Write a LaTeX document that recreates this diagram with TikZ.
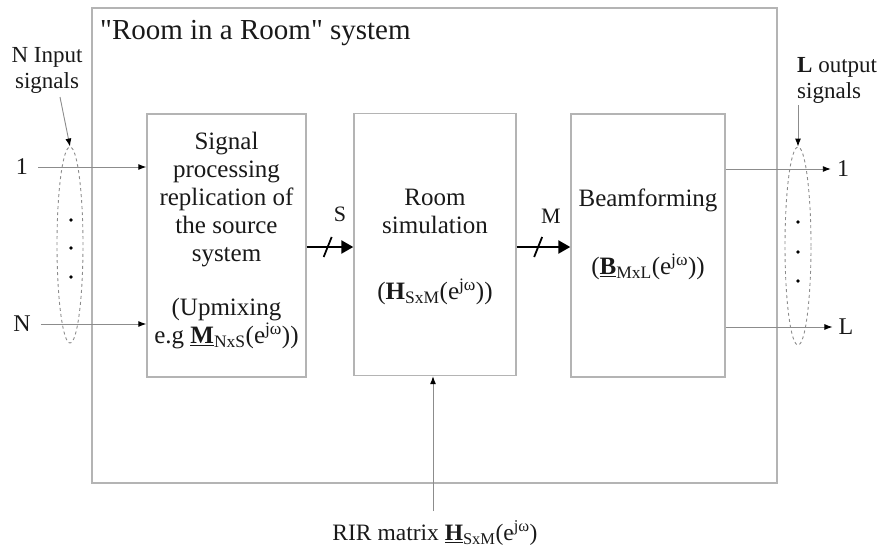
\documentclass[tikz,border=0pt]{standalone}
\usepackage{fontspec}
\setmainfont{Liberation Serif}
\newfontfamily\qfont{Liberation Serif}[Ligatures=TeXOff]
\usetikzlibrary{arrows.meta,shapes.geometric,calc}
\definecolor{boxgray}{HTML}{B4B4B4}
\definecolor{linegray}{HTML}{8C8C8C}
\begin{document}
\begin{tikzpicture}[x=1pt,y=-1pt,
  box/.style={draw=boxgray, line width=1.4pt, inner sep=0pt},
  txt/.style={font=\fontsize{25}{28}\selectfont, inner sep=0pt, align=center, text=black!90},
  lbl/.style={font=\fontsize{22}{25}\selectfont, inner sep=0pt, align=center, text=black!90},
  thin/.style={draw=linegray, line width=0.9pt, -{Latex[length=8pt,width=6pt,color=black]}},
  bus/.style={draw=black, line width=2.4pt, -{Triangle[length=12pt,width=13pt]}},
  slash/.style={draw=black, line width=1.8pt},
  grp/.style={ellipse, draw=linegray, dashed, line width=0.9pt, inner sep=0pt},
  dot/.style={fill=black}]
\useasboundingbox (0,0) rectangle (887,550);
% outer system box
\node[box, minimum width=685pt, minimum height=475pt] (sys) at (434.5,245.5) {};
\node[anchor=west, inner sep=0pt, font=\qfont\fontsize{29}{33}\selectfont, text=black!90] (title) at (100,33) {"Room in a Room" system};
% blocks
\node[box, minimum width=159pt, minimum height=263pt] (b1) at (226.5,245.5) {};
\node[box, minimum width=162pt, minimum height=262pt] (b2) at (435,244.5) {};
\node[box, minimum width=154pt, minimum height=263pt] (b3) at (648,245.5) {};
% block texts
\node[txt] (t1a) at (226.5,200) {Signal\\processing\\replication of\\the source\\system};
\node[txt] (t1b) at (226.5,324) {(Upmixing\\e.g \textbf{\underline{M}}\textsubscript{NxS}(e\textsuperscript{jω}))};
\node[txt] (t2a) at (435,211) {Room\\simulation};
\node[txt] (t2b) at (435,292) {(\textbf{H}\textsubscript{SxM}(e\textsuperscript{jω}))};
\node[txt] (t3a) at (648,200) {Beamforming};
\node[txt] (t3b) at (648,267) {(\textbf{\underline{B}}\textsubscript{MxL}(e\textsuperscript{jω}))};
% buses
\coordinate (s1) at ($(b1.east)+(0,1.5)$);
\coordinate (s2) at ($(b2.west)+(0,2.5)$);
\draw[bus] (s1) -- (s2);
\draw[slash] ($(s1)!0.45!(s2)+(-4,10)$) -- ($(s1)!0.45!(s2)+(4,-10)$);
\node[lbl] (S) at (340,214) {S};
\coordinate (m1) at ($(b2.east)+(0,2.5)$);
\coordinate (m2) at ($(b3.west)+(0,1.5)$);
\draw[bus] (m1) -- (m2);
\draw[slash] ($(m1)!0.4!(m2)+(-4,10)$) -- ($(m1)!0.4!(m2)+(4,-10)$);
\node[lbl] (M) at (551,216) {M};
% inputs
\node[lbl, font=\fontsize{24}{27}\selectfont] (in1) at (22,167) {1};
\node[lbl, font=\fontsize{24}{27}\selectfont] (inN) at (22,324) {N};
\draw[thin] (in1.east)++(10,0) coordinate (in1s) -- (b1.west |- in1s);
\draw[thin] (inN.east)++(10,0) coordinate (inNs) -- (b1.west |- inNs);
\node[grp, minimum width=26pt, minimum height=196pt] (gin) at (70,245) {};
\fill[dot] (71,220) circle (1.8pt) (71,248) circle (1.8pt) (71,277) circle (1.8pt);
\node[lbl, font=\fontsize{23}{26}\selectfont] (inlbl) at (47,70) {N Input\\signals};
\coordinate (inarr) at (60,97);
\draw[thin] (inarr) -- (gin.north);
% outputs
\node[lbl, font=\fontsize{24}{27}\selectfont] (out1) at (843,169) {1};
\node[lbl, font=\fontsize{24}{27}\selectfont] (outL) at (846,327) {L};
\draw[thin] (b3.east |- out1) -- ($(out1.west)+(-6,0)$);
\draw[thin] (b3.east |- outL) -- ($(outL.west)+(-6,0)$);
\node[grp, minimum width=26pt, minimum height=198pt] (gout) at (798,246) {};
\fill[dot] (798,222) circle (1.8pt) (798,252) circle (1.8pt) (798,281) circle (1.8pt);
\node[lbl, anchor=west, align=left, font=\fontsize{23}{26}\selectfont] (outlbl) at (797,80) {\textbf{L} output\\signals};
\coordinate (outarr) at (798,105);
\draw[thin] (outarr) -- (gout.north);
% RIR input
\node[lbl, font=\fontsize{23.5}{27}\selectfont] (rir) at (435,533) {RIR matrix \textbf{\underline{H}}\textsubscript{SxM}(e\textsuperscript{jω})};
\coordinate (rirtop) at (433,511);
\draw[thin] (rirtop) -- (b2.south -| rirtop);
\end{tikzpicture}
\end{document}
